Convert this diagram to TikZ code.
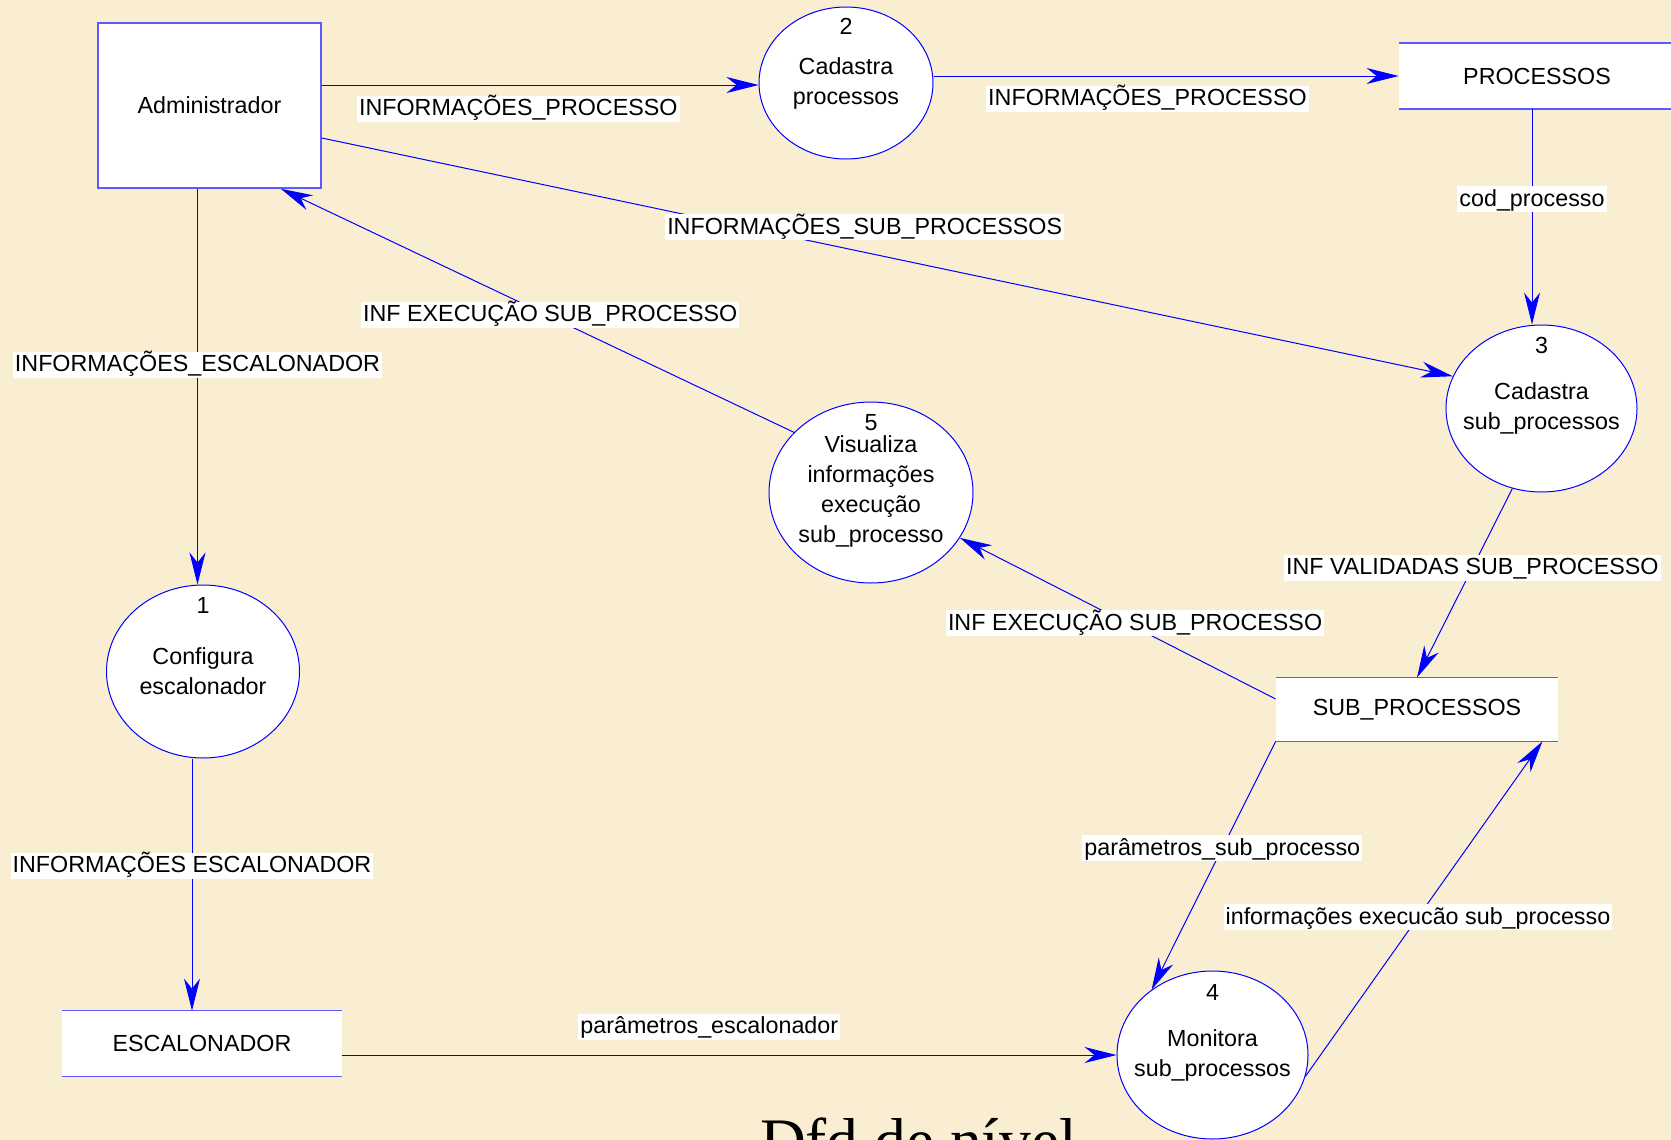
\documentclass[tikz,border=0pt]{standalone}
\usepackage{fontspec}
\setmainfont{Liberation Sans}
\newfontfamily\titlefont{Liberation Serif}
\usetikzlibrary{shapes.geometric,arrows.meta}

\definecolor{paper}{RGB}{250,238,210}
\definecolor{lineblue}{RGB}{0,0,255}
\definecolor{boxblue}{RGB}{90,90,255}

\tikzset{
  every node/.style={font=\fontsize{11.65}{15}\selectfont},
  process/.style={ellipse, draw=lineblue, fill=white, line width=0.5pt, inner sep=0pt},
  procnum/.style={inner sep=0pt},
  proctext/.style={align=center, inner sep=0pt},
  entity/.style={rectangle, draw=boxblue, fill=white, line width=0.8pt,
    minimum width=111.5pt, minimum height=82.5pt},
  storeline/.style={draw=boxblue, line width=0.8pt, -},
  store/.style={rectangle, fill=white, minimum height=32.5pt, inner sep=0pt,
    append after command={(\tikzlastnode.north west) edge[storeline] (\tikzlastnode.north east)
      (\tikzlastnode.south west) edge[storeline] (\tikzlastnode.south east)}},
  flow/.style={draw=lineblue, line width=0.5pt, -{Stealth[length=16pt, width=8pt, inset=5pt]}},
  flowlabel/.style={fill=white, inner xsep=1pt, inner ysep=0.3pt, text height=9.7pt, text depth=2.7pt}
}

\begin{document}
\begin{tikzpicture}[x=0.5pt, y=-0.5pt]
  \useasboundingbox (0,0) rectangle (1671,1140);
  \clip (0,0) rectangle (1671,1140);
  \fill[paper] (0,0) rectangle (1671,1140);

  \node[entity] (adm) at (209.5,105.5) {Administrador};
  \node[store, minimum width=138pt] (proc) at (1537,76) {PROCESSOS};
  \node[store, minimum width=141pt, minimum height=31.5pt] (sub) at (1417,709.5) {SUB\_PROCESSOS};
  \node[store, minimum width=140pt] (esc) at (202,1043.5) {ESCALONADOR};

  \node[process, minimum width=96.5pt, minimum height=86.5pt] (p1) at (203,671.5) {};
  \node[process, minimum width=87pt, minimum height=76pt] (p2) at (846,83) {};
  \node[process, minimum width=95.5pt, minimum height=83.5pt] (p3) at (1541.5,408.5) {};
  \node[process, minimum width=95.5pt, minimum height=84pt] (p4) at (1212.5,1055) {};
  \node[process, minimum width=102pt, minimum height=90.5pt] (p5) at (871,492.5) {};

  \node[procnum] (n1) at ([yshift=-10.5pt]p1.north) {1};
  \node[procnum] (n2) at ([yshift=-10pt]p2.north) {2};
  \node[procnum] (n3) at ([yshift=-10.5pt]p3.north) {3};
  \node[procnum] (n4) at ([yshift=-11pt]p4.north) {4};
  \node[procnum] (n5) at ([yshift=-10.5pt]p5.north) {5};
  \node[proctext] (t1) at (p1) {Configura\\escalonador};
  \node[proctext] (t2) at (p2) {Cadastra\\processos};
  \node[proctext] (t3) at (p3) {Cadastra\\sub\_processos};
  \node[proctext] (t4) at (p4) {Monitora\\sub\_processos};
  \node[proctext] (t5) at ([yshift=0.5pt]p5) {Visualiza\\informações\\execução\\sub\_processo};

  \coordinate (a1) at ([xshift=-6pt]adm.south);
  \coordinate (a2) at ([xshift=-5.5pt]p1.south);
  \coordinate (a3) at ([xshift=-2.5pt]proc.south);

  \draw[flow] ([yshift=-1pt]adm.east |- p2.west) -- ([yshift=-1pt]p2.west)
    node[flowlabel, pos=0.45, below=5pt] (l1) {INFORMAÇÕES\_PROCESSO};
  \draw[flow] (p2.east |- proc.west) -- (proc.west)
    node[flowlabel, pos=0.46, below=4.5pt] (l2) {INFORMAÇÕES\_PROCESSO};
  \draw[flow] (a3) -- (a3 |- p3.north)
    node[flowlabel, pos=0.42] (l3) {cod\_processo};
  \draw[flow] ([yshift=-16.25pt]adm.east) -- (p3.160)
    node[flowlabel, pos=0.48, yshift=12.5pt] (l4) {INFORMAÇÕES\_SUB\_PROCESSOS};
  \draw[flow] (p5.142) -- ([xshift=-20.5pt]adm.south east)
    node[flowlabel, pos=0.475, yshift=1pt] (l5) {INF EXECUÇÃO SUB\_PROCESSO};
  \draw[flow] (a1) -- (a1 |- p1.north)
    node[flowlabel, pos=0.445] (l6) {INFORMAÇÕES\_ESCALONADOR};
  \draw[flow] (a2) -- (a2 |- esc.north)
    node[flowlabel, pos=0.425] (l7) {INFORMAÇÕES ESCALONADOR};
  \draw[flow] (esc.east |- p4.west) -- (p4.west)
    node[flowlabel, pos=0.474, above=7.5pt] (l8) {parâmetros\_escalonador};
  \draw[flow] (p3.250) -- (sub.north)
    node[flowlabel, pos=0.42] (l9) {INF VALIDADAS SUB\_PROCESSO};
  \draw[flow] ([yshift=5.25pt]sub.west) -- (p5)
    node[flowlabel, pos=0.445, yshift=2pt] (l10) {INF EXECUÇÃO SUB\_PROCESSO};
  \draw[flow] (sub.south west) -- (p4.133)
    node[flowlabel, pos=0.43] (l11) {parâmetros\_sub\_processo};
  \draw[flow] (p4.347) -- ([xshift=-8pt]sub.south east)
    node[flowlabel, pos=0.475] (l12) {informações execucão sub\_processo};

  \node[font=\titlefont\fontsize{31.7}{34}\selectfont, anchor=base] (title) at (918.5,1162) {Dfd de nível};
\end{tikzpicture}
\end{document}
